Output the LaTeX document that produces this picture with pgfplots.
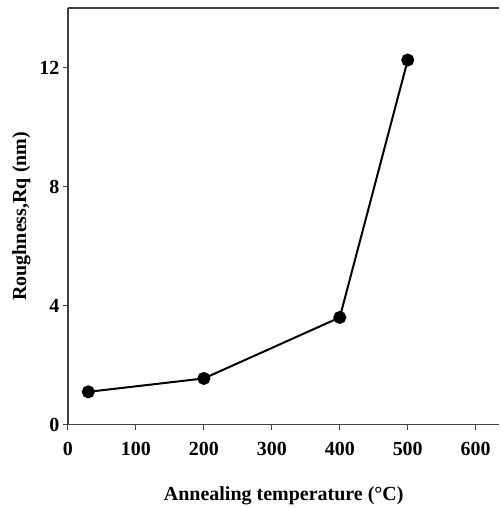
\documentclass[border=0pt]{standalone}
\usepackage{fontspec}
\setmainfont{Liberation Serif}
\usepackage{pgfplots}
\pgfplotsset{compat=1.18}

\begin{document}
\begin{tikzpicture}
\begin{axis}[
    scale only axis,
    width=432pt,
    height=417pt,
    xmin=0, xmax=635,
    ymin=0, ymax=14,
    axis x line*=box,
    axis y line*=left,
    xtick pos=bottom,
    ytick pos=left,
    xtick={0,100,200,300,400,500,600},
    ytick={0,4,8,12},
    tick align=outside,
    major tick length=5pt,
    axis line style={line width=1.3pt, black!75},
    tick style={line width=1pt, black!75},
    /pgf/number format/assume math mode=true,
    ticklabel style={font=\fontsize{20}{22}\selectfont\bfseries},
    xticklabel style={yshift=-9pt},
    xlabel={Annealing temperature (°C)},
    ylabel={Roughness,Rq (nm)},
    label style={font=\fontsize{20}{22}\selectfont\bfseries},
    xlabel style={yshift=-24pt},
    ylabel style={yshift=2pt},
]
\addplot[black, line width=2pt, mark=*, mark size=5.5pt] coordinates {
    (30,1.1) (200,1.55) (400,3.6) (500,12.25)
};
\end{axis}
\path ([xshift=-68pt,yshift=-83pt]current axis.south west) rectangle ([yshift=8pt]current axis.north east);
\end{tikzpicture}
\end{document}
